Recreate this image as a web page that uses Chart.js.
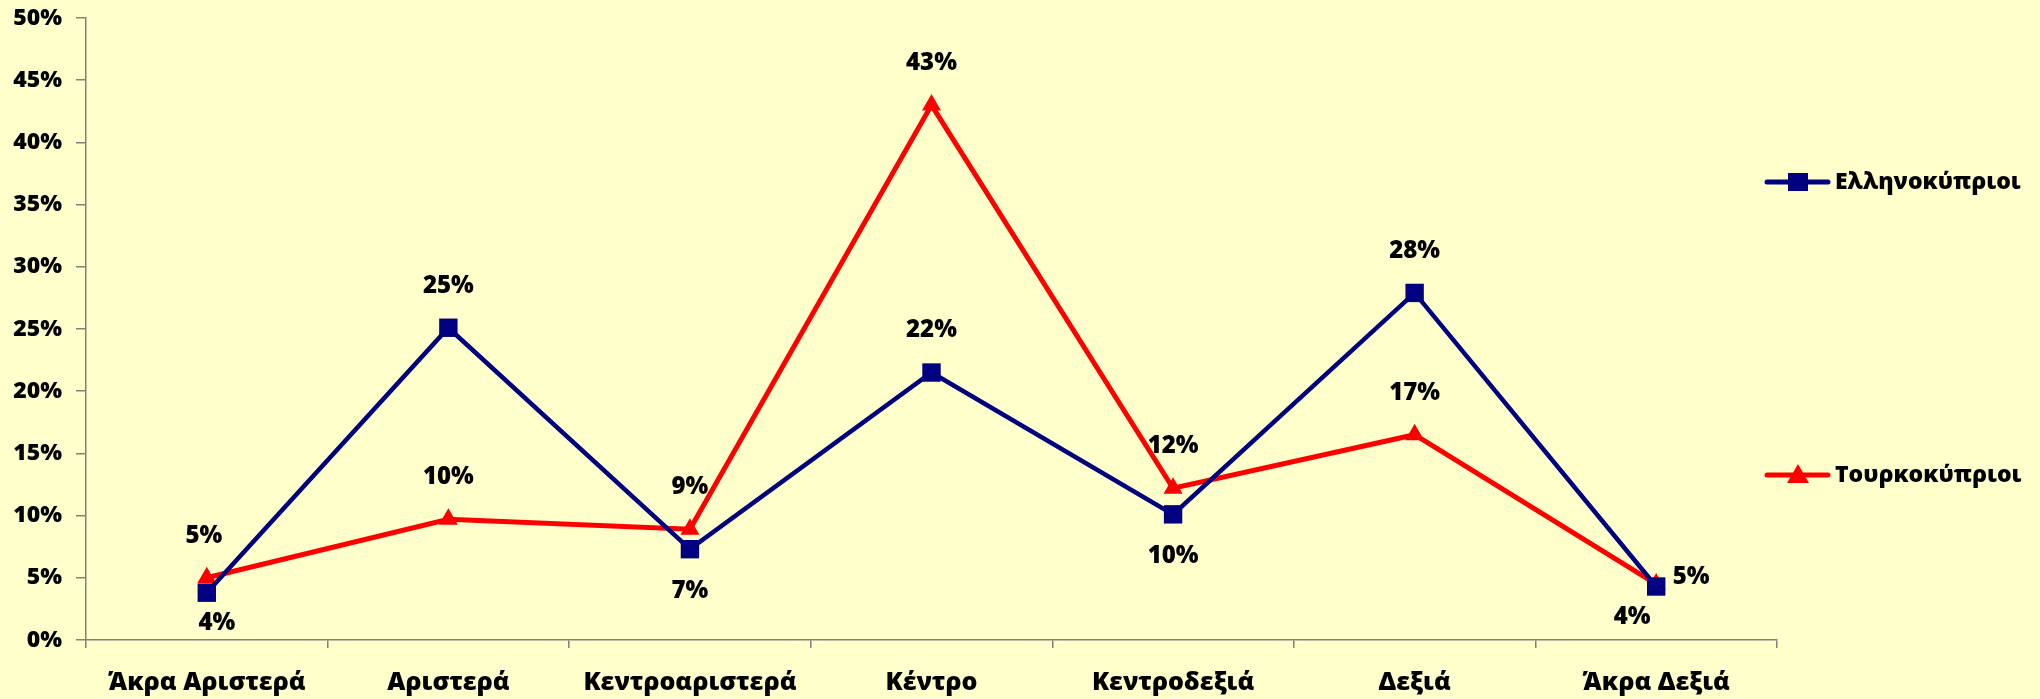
<!DOCTYPE html>
<html>
<head>
<meta charset="utf-8">
<script src="https://cdn.jsdelivr.net/npm/chart.js@4"></script>
<style>
  html, body { margin: 0; padding: 0; background: #FFFFCC; }
  canvas { display: block; }
</style>
</head>
<body>
<canvas id="grafik" width="2040" height="699"></canvas>
<script>
// data
const kategori = ['Άκρα Αριστερά', 'Αριστερά', 'Κεντροαριστερά', 'Κέντρο', 'Κεντροδεξιά', 'Δεξιά', 'Άκρα Δεξιά'];
const ellinokyprioi = [3.8, 25.1, 7.3, 21.5, 10.1, 27.9, 4.3];
const tourkokyprioi = [5.0, 9.7, 8.9, 43.0, 12.2, 16.5, 4.5];
const namaSeri = ['Ελληνοκύπριοι', 'Τουρκοκύπριοι'];
const yMin = 0, yMax = 50, yStep = 5;

// label offsets relative to the point (px)
const posGR = [[10, 30], [0, -42], [0, 42], [0, -42], [0, 42], [0, -42], [-24, 31]];
const posTR = [[-3, -42], [0, -42], [0, -42], [0, -42], [0, -42], [0, -42], [35, -7]];

const FONT = '"Open Sans", "Noto Sans", sans-serif';

const latarPlugin = {
  id: 'latar',
  beforeDraw(chart) {
    const ctx = chart.ctx;
    ctx.save();
    ctx.fillStyle = '#FFFFCC';
    ctx.fillRect(0, 0, chart.width, chart.height);
    ctx.restore();
  }
};

const labelPlugin = {
  id: 'labelNilai',
  afterDatasetsDraw(chart) {
    const ctx = chart.ctx;
    ctx.save();
    ctx.font = '800 24px ' + FONT;
    ctx.fillStyle = '#000';
    ctx.textAlign = 'center';
    ctx.textBaseline = 'middle';
    chart.data.datasets.forEach((ds, i) => {
      const meta = chart.getDatasetMeta(i);
      const pos = i === 0 ? posGR : posTR;
      meta.data.forEach((pt, j) => {
        ctx.fillText(Math.round(ds.data[j]) + '%', pt.x + pos[j][0], pt.y + pos[j][1]);
      });
    });
    ctx.restore();
  }
};

function gambarPenanda(ctx, gaya, x, y, warna) {
  ctx.fillStyle = warna;
  ctx.beginPath();
  if (gaya === 'rect') {
    ctx.rect(x - 10, y - 9, 20, 18);
  } else {
    ctx.moveTo(x, y - 11);
    ctx.lineTo(x + 11, y + 8);
    ctx.lineTo(x - 11, y + 8);
    ctx.closePath();
  }
  ctx.fill();
}

const legendaPlugin = {
  id: 'legenda',
  afterDraw(chart) {
    const ctx = chart.ctx;
    const area = chart.chartArea;
    const tengah = (area.top + area.bottom) / 2;
    const ys = [tengah - 147, tengah + 146];
    ctx.save();
    chart.data.datasets.forEach((ds, i) => {
      const y = ys[i];
      const x0 = area.right - 10;
      ctx.strokeStyle = ds.borderColor;
      ctx.lineWidth = 5;
      ctx.lineCap = 'round';
      ctx.beginPath();
      ctx.moveTo(x0, y);
      ctx.lineTo(x0 + 61, y);
      ctx.stroke();
      gambarPenanda(ctx, ds.pointStyle, x0 + 31, y, ds.borderColor);
      ctx.fillStyle = '#000';
      ctx.font = '800 23px ' + FONT;
      ctx.textAlign = 'left';
      ctx.textBaseline = 'middle';
      ctx.fillText(ds.label, x0 + 68, y);
    });
    ctx.restore();
  }
};

const ctx = document.getElementById('grafik').getContext('2d');
new Chart(ctx, {
  type: 'line',
  data: {
    labels: kategori,
    datasets: [{
      label: namaSeri[0],
      data: ellinokyprioi,
      borderColor: '#000080',
      backgroundColor: '#000080',
      borderWidth: 4.5,
      pointStyle: 'rect',
      pointRadius: 13,
      pointBorderWidth: 0,
      tension: 0,
      clip: false
    }, {
      label: namaSeri[1],
      data: tourkokyprioi,
      borderColor: '#FF0000',
      backgroundColor: '#FF0000',
      borderWidth: 5,
      pointStyle: 'triangle',
      pointRadius: 11,
      pointBorderWidth: 0,
      tension: 0,
      clip: false
    }]
  },
  options: {
    responsive: false,
    devicePixelRatio: 1,
    animation: false,
    layout: { padding: { top: 18, right: 263, bottom: 0, left: 0 } },
    plugins: {
      legend: { display: false },
      tooltip: { enabled: false }
    },
    scales: {
      x: {
        offset: true,
        grid: { offset: true, drawOnChartArea: false, drawTicks: true, tickLength: 8, color: '#808080', lineWidth: 1.5 },
        border: { color: '#808080', width: 1.5 },
        ticks: { color: '#000', font: { family: FONT, size: 25, weight: '800' }, padding: 20, maxRotation: 0 },
        afterFit(scale) { scale.height = 59; scale.paddingLeft = 0; scale.paddingRight = 0; }
      },
      y: {
        min: yMin,
        max: yMax,
        grid: { drawOnChartArea: false, drawTicks: true, tickLength: 10, color: '#808080', lineWidth: 1.5 },
        border: { color: '#808080', width: 1.5 },
        ticks: {
          stepSize: yStep,
          color: '#000',
          font: { family: FONT, size: 23, weight: '800' },
          padding: 14,
          callback: v => v + '%'
        },
        afterFit(scale) { scale.width = 86; scale.paddingTop = 0; scale.paddingBottom = 0; }
      }
    }
  },
  plugins: [latarPlugin, labelPlugin, legendaPlugin]
});
</script>
</body>
</html>
